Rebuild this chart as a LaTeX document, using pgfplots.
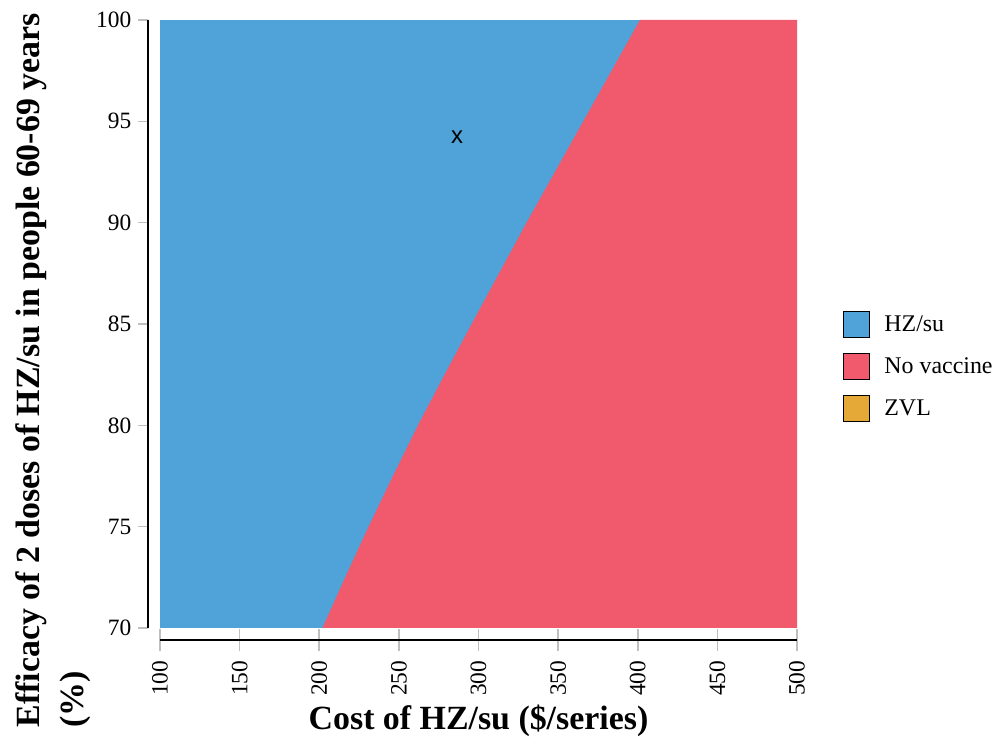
\documentclass[border=0pt]{standalone}
\usepackage{pgfplots}
\pgfplotsset{compat=1.18}
\usepackage{fontspec}
\setmainfont{Liberation Serif}
\newfontfamily\sansx{Liberation Sans}
\definecolor{hzblue}{RGB}{79,163,216}
\definecolor{novred}{RGB}{241,89,108}
\definecolor{zvlorange}{RGB}{229,169,56}
\begin{document}
\begin{tikzpicture}
\path[use as bounding box] (0,0) rectangle (1002bp,745bp);
\begin{axis}[
  at={(160bp,117bp)}, anchor=south west,
  scale only axis, width=637bp, height=608bp,
  xmin=100, xmax=500, ymin=70, ymax=100,
  axis x line*=bottom, axis y line*=left,
  axis x line shift=12bp, axis y line shift=12bp,
  axis line style={black, line width=1.6bp, -},
  xtick={100,150,...,500}, ytick={70,75,...,100},
  xtick align=center, ytick align=outside,
  xtick style={gray!50, line width=1.6bp, /pgfplots/major tick length=22bp},
  ytick style={gray!50, line width=1.6bp, /pgfplots/major tick length=10bp},
  /pgf/number format/assume math mode=true,
  ticklabel style={font=\fontsize{23.5}{26}\selectfont},
  xticklabel style={rotate=90, anchor=east, xshift=-15bp},
  yticklabel style={xshift=-9bp},
  xlabel={Cost of HZ/su (\$/series)},
  xlabel style={font=\fontsize{34}{37}\selectfont\bfseries, yshift=-2bp},
  legend style={at={(1.0675,0.43)}, anchor=west, draw=none, fill=none,
    font=\fontsize{24}{26}\selectfont, row sep=15bp, column sep=12bp},
  legend cell align=left,
  legend image code/.code={\draw[#1, draw=black, line width=1.2bp] (0bp,-13bp) rectangle (26bp,13bp);},
  clip=true,
]
\addplot[fill=hzblue, draw=none] coordinates {(100,70) (500,70) (500,100) (100,100)} -- cycle;
\addlegendentry{HZ/su}
\addplot[fill=novred, draw=none] coordinates {
(202,70) (216.3,72.5) (231,75) (246.3,77.5) (262,80) (278.7,82.5) (295.7,85) (312.9,87.5)
(330.2,90) (348,92.5) (365.8,95) (383.6,97.5) (401.4,100) (500,100) (500,70)} -- cycle;
\addlegendentry{No vaccine}
\addlegendimage{fill=zvlorange}
\addlegendentry{ZVL}
\addplot[draw=none, mark=none, forget plot, nodes near coords={x},
  every node near coord/.style={anchor=center, font=\fontsize{24}{24}\sansx}]
  coordinates {(286.5,94.2)};
\end{axis}
\node[rotate=90, anchor=south west, align=left, font=\fontsize{34}{44}\selectfont\bfseries]
  at (94bp,14bp) {Efficacy of 2 doses of HZ/su in people 60-69 years\\(\%)};
\end{tikzpicture}
\end{document}
